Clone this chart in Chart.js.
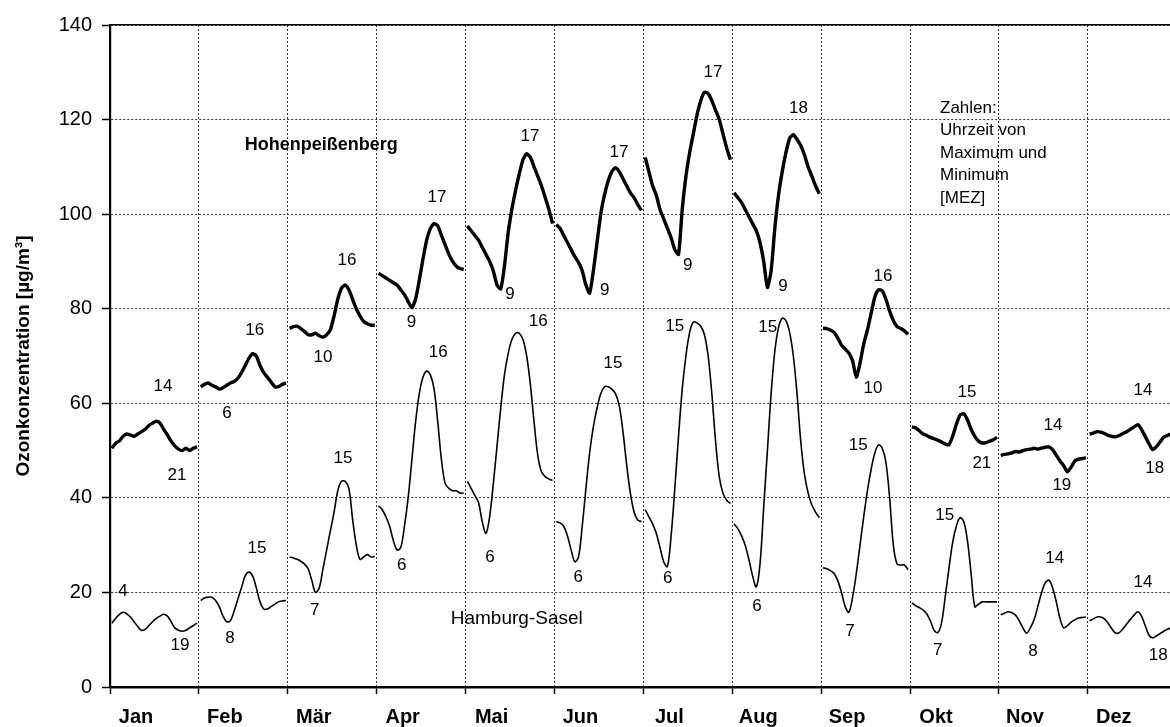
<!DOCTYPE html>
<html>
<head>
<meta charset="utf-8">
<script src="https://cdn.jsdelivr.net/npm/chart.js@4/dist/chart.umd.min.js"></script>
<style>
    html, body { margin: 0; padding: 0; background: #fff; overflow: hidden; }
</style>
</head>
<body>
<canvas id="ozon-chart" width="1170" height="727"></canvas>
<script>
const months = ["Jan", "Feb", "Mär", "Apr", "Mai", "Jun", "Jul", "Aug", "Sep", "Okt", "Nov", "Dez"];
const yTicks = [0, 20, 40, 60, 80, 100, 120, 140];

// mittlerer Tagesgang je Monat, Stunde 1..24 (µg/m³)
const hohenpeissenberg = [
    [50.5, 51.5, 52, 53, 53.5, 53.3, 53, 53.5, 54, 54.5, 55.3, 55.8, 56.2, 55.8, 54.5, 53.3, 52, 51, 50.3, 50, 50.5, 50, 50.5, 50.8],
    [63.5, 64, 64.3, 63.8, 63.5, 63, 63.3, 63.8, 64.3, 64.6, 65.3, 66.5, 68, 69.5, 70.5, 70, 68, 66.5, 65.5, 64.5, 63.5, 63.5, 64, 64.3],
    [75.8, 76.2, 76.3, 75.8, 75.2, 74.5, 74.5, 74.8, 74.3, 74, 74.5, 75.5, 78.5, 82, 84.3, 85, 84, 82, 80, 78.5, 77.3, 76.8, 76.5, 76.5],
    [87.5, 87, 86.5, 86, 85.5, 85, 84, 83, 81.5, 80.2, 82, 86, 90.5, 94.5, 97, 98, 97.5, 95.5, 93.5, 91.5, 90, 89, 88.5, 88.3],
    [97.5, 96.5, 95.5, 94.5, 93, 91.5, 90, 88, 85, 84.2, 89, 96, 101, 105, 108.5, 111.5, 112.8, 112, 110, 108, 106, 103.5, 101, 98],
    [97.8, 97, 95.5, 94, 92.5, 91, 89.8, 88, 85, 83.3, 88, 94, 100, 104, 107, 109, 109.8, 109, 107.5, 106, 104.5, 103.5, 102, 100.8],
    [112, 109, 106, 104, 101, 99, 97, 95, 92.5, 91.5, 101, 108, 113, 117, 121, 124, 125.8, 125.5, 124, 122, 120, 117, 114, 111.5],
    [104.5, 103.5, 102.5, 101, 99.5, 98, 96.5, 94, 90, 84.5, 88, 97, 104, 109, 113, 116, 116.8, 115.8, 114.5, 112.5, 110, 108, 106, 104.3],
    [75.9, 75.8, 75.5, 75, 73.8, 72.3, 71.5, 70.6, 69, 65.5, 68.5, 72.5, 75.5, 79, 82.5, 84, 83.8, 82, 79.5, 77.5, 76.2, 75.8, 75.3, 74.6],
    [55, 54.8, 54.2, 53.5, 53.2, 52.8, 52.5, 52.2, 51.8, 51.4, 51.2, 53, 55.5, 57.5, 57.8, 56.5, 54.5, 53, 52, 51.6, 51.7, 52, 52.3, 52.8],
    [49, 49.2, 49.3, 49.5, 49.8, 49.7, 50, 50.2, 50.3, 50.5, 50.3, 50.5, 50.7, 50.8, 50.2, 49, 47.8, 46.8, 45.5, 46.5, 47.8, 48.2, 48.3, 48.5],
    [53.5, 53.7, 54, 53.9, 53.6, 53.2, 53, 52.9, 53.2, 53.6, 54, 54.5, 55, 55.5, 54.5, 53, 51.5, 50.2, 50.8, 51.8, 52.8, 53.2, 53.5, 53.5]
];

const hamburgSasel = [
    [13.5, 14.5, 15.3, 15.8, 15.5, 14.8, 13.8, 12.8, 12, 12.2, 13, 13.8, 14.5, 15, 15.4, 15, 13.8, 12.5, 12, 11.8, 12, 12.5, 13, 13.5],
    [18.3, 18.8, 19, 19, 18.3, 17, 15, 13.8, 14, 16, 18.5, 21, 23.5, 24.3, 23.5, 21, 18, 16.5, 16.5, 17, 17.5, 18, 18.2, 18.3],
    [27.5, 27.3, 27, 26.6, 26, 25, 22.5, 20, 21, 25, 29, 33, 37, 41.5, 43.5, 43.5, 42, 35.5, 30, 27, 27.5, 28, 27.5, 27.6],
    [38.3, 37.5, 36, 34, 31, 29, 29.5, 34, 40, 48, 56, 62, 65.5, 66.8, 66, 63, 56, 48, 43, 42, 41.5, 41.5, 41, 41],
    [43.5, 42, 40.5, 39, 35, 32.5, 36, 43, 51, 59, 66, 70.5, 73.5, 74.8, 74.8, 73.5, 70, 64, 56, 49, 45.5, 44.5, 44, 43.7],
    [35, 34.7, 34, 32, 29, 26.5, 27.5, 34, 42, 49.5, 55, 59, 62, 63.5, 63.5, 63, 62, 59.5, 54, 47, 41, 37, 35.3, 35],
    [37.5, 36, 34.5, 32.5, 29.5, 26.5, 25.5, 32, 42, 53, 63, 70, 75, 77.2, 77, 76.3, 74.5, 70, 62, 52, 44.5, 41, 39.5, 38.8],
    [34.5, 33.5, 32, 30, 27, 23.5, 21.2, 26, 38, 50, 62, 71, 76, 78, 77.5, 75, 70, 62, 52, 45, 41, 38.5, 37, 35.8],
    [25.2, 25, 24.6, 24, 22.5, 20, 17, 15.8, 19, 24, 30, 36, 41.5, 46, 49.5, 51.2, 50.5, 47.5, 40, 30, 26, 25.8, 25.8, 24.8],
    [17.8, 17.2, 16.8, 16.3, 15.5, 14, 12, 11.5, 13.5, 19, 25, 30.5, 34, 35.8, 35, 31, 24, 17, 17.5, 18, 18, 18, 18, 18],
    [15.3, 15.6, 15.9, 15.7, 15.2, 14, 12.5, 11.4, 12.5, 14.2, 17, 19.9, 22, 22.6, 21, 18, 14.5, 12.5, 13, 13.7, 14.2, 14.6, 14.7, 14.8],
    [14, 14.4, 14.8, 14.8, 14.4, 13.5, 12.3, 11.4, 11.5, 12.3, 13.3, 14.3, 15.2, 15.9, 15, 13, 11, 10.4, 10.8, 11.3, 11.8, 12.2, 12.5, 12.8]
];

// Uhrzeit von Maximum / Minimum, dazu Ankerpunkt [Stunde im Jahr, Wert]
const hpbMaxHour = ["14", "16", "16", "17", "17", "17", "17", "18", "16", "15", "14", "14"];
const hpbMaxAt = [[14.3, 63.6], [39.1, 75.5], [64, 90.3], [88.3, 103.6], [113.4, 116.5], [137.4, 113.1], [162.8, 130], [185.9, 122.4], [208.7, 86.9], [231.4, 62.4], [254.6, 55.4], [278.9, 62.8]];
const hpbMinHour = ["21", "6", "10", "9", "9", "9", "9", "9", "10", "21", "19", "18"];
const hpbMinAt = [[18.1, 44.8], [31.6, 57.9], [57.5, 69.8], [81.4, 77.2], [108, 83.1], [133.6, 83.8], [156, 89.2], [181.7, 84.8], [206, 63.1], [235.4, 47.4], [257, 42.7], [282.1, 46.3]];
const hhsMaxHour = ["4", "15", "15", "16", "16", "15", "15", "15", "15", "15", "14", "14"];
const hhsMaxAt = [[3.5, 20.3], [39.7, 29.4], [62.9, 48.4], [88.6, 70.8], [115.6, 77.4], [135.8, 68.5], [152.5, 76.3], [177.6, 76.1], [202, 51.2], [225.4, 36.4], [255.1, 27.3], [278.9, 22.2]];
const hhsMinHour = ["19", "8", "7", "6", "6", "6", "6", "6", "7", "7", "8", "18"];
const hhsMinAt = [[18.9, 8.9], [32.4, 10.4], [55.3, 16.3], [78.8, 25.8], [102.6, 27.5], [126.4, 23.3], [150.6, 23], [174.7, 17], [199.8, 11.8], [223.5, 7.8], [249.2, 7.6], [283, 6.8]];

const noteLines = ["Zahlen:", "Uhrzeit von", "Maximum und", "Minimum", "[MEZ]"];

const FONT = "'Liberation Sans', Arial, Helvetica, sans-serif";

function buildSeries(rows) {
    const pts = [];
    rows.forEach(function (row, m) {
        row.forEach(function (v, h) {
            pts.push({ x: m * 24 + h + 0.5, y: v });
        });
        pts.push({ x: m * 24 + 24, y: null });
    });
    return pts;
}

const textPlugin = {
    id: "hourLabels",
    afterDatasetsDraw(chart) {
        const ctx = chart.ctx;
        const xs = chart.scales.x;
        const ys = chart.scales.y;
        const px = function (x) { return xs.getPixelForValue(x); };
        const py = function (y) { return ys.getPixelForValue(y); };
        ctx.save();
        ctx.fillStyle = "#000";
        ctx.textBaseline = "middle";
        ctx.textAlign = "center";
        ctx.font = "17px " + FONT;
        [[hpbMaxHour, hpbMaxAt], [hpbMinHour, hpbMinAt], [hhsMaxHour, hhsMaxAt], [hhsMinHour, hhsMinAt]].forEach(function (set) {
            set[0].forEach(function (t, i) {
                ctx.fillText(t, px(set[1][i][0]), py(set[1][i][1]));
            });
        });
        // Stationsnamen
        ctx.textAlign = "left";
        ctx.font = "bold 18px " + FONT;
        ctx.fillText("Hohenpeißenberg", px(36.4), py(114.6));
        ctx.font = "19px " + FONT;
        ctx.fillText("Hamburg-Sasel", px(92), py(14.4));
        // Hinweis
        ctx.font = "17px " + FONT;
        noteLines.forEach(function (t, i) {
            ctx.fillText(t, px(224.1), py(122.4 - i * 4.75));
        });
        ctx.restore();
    }
};

document.addEventListener("DOMContentLoaded", function () {
    const target = document.getElementById("ozon-chart");
    new Chart(target, {
        type: "line",
        data: {
            datasets: [
                {
                    label: "Hohenpeißenberg",
                    data: buildSeries(hohenpeissenberg),
                    borderColor: "#000",
                    borderWidth: 3.4,
                    pointRadius: 0,
                    tension: 0.2,
                    spanGaps: false
                },
                {
                    label: "Hamburg-Sasel",
                    data: buildSeries(hamburgSasel),
                    borderColor: "#000",
                    borderWidth: 1.6,
                    pointRadius: 0,
                    tension: 0.35,
                    spanGaps: false
                }
            ]
        },
        options: {
            responsive: false,
            animation: false,
            layout: { padding: { top: 25, left: 0, right: 0, bottom: 0 } },
            plugins: {
                legend: { display: false },
                tooltip: { enabled: false }
            },
            scales: {
                x: {
                    type: "linear",
                    position: "bottom",
                    min: 0,
                    max: 286.2,
                    afterBuildTicks: function (scale) {
                        scale.ticks = months.map(function (m, i) { return { value: i * 24 }; });
                    },
                    afterFit: function (scale) { scale.height = 40; },
                    ticks: {
                        autoSkip: false,
                        maxRotation: 0,
                        labelOffset: 26,
                        padding: 11,
                        color: "#000",
                        font: { family: FONT, size: 20, weight: "bold" },
                        callback: function (v, i) { return months[i]; }
                    },
                    grid: {
                        color: "#333",
                        lineWidth: 1,
                        tickLength: 7,
                        tickColor: "#000",
                        tickWidth: 1.5,
                        tickBorderDash: []
                    },
                    border: { display: true, color: "#000", width: 2.5, dash: [2, 2] }
                },
                xTop: {
                    type: "linear",
                    position: "top",
                    min: 0,
                    max: 286.2,
                    afterFit: function (scale) { scale.height = 0; },
                    ticks: { display: false },
                    grid: { display: false, drawTicks: false },
                    border: { display: true, color: "#000", width: 1.5 }
                },
                y: {
                    min: 0,
                    max: 140,
                    afterBuildTicks: function (scale) {
                        scale.ticks = yTicks.map(function (v) { return { value: v }; });
                    },
                    afterFit: function (scale) { scale.width = 110; },
                    ticks: {
                        padding: 10,
                        color: "#000",
                        font: { family: FONT, size: 20 }
                    },
                    grid: {
                        color: "#333",
                        lineWidth: 1,
                        tickLength: 8,
                        tickColor: "#000",
                        tickWidth: 1.5,
                        tickBorderDash: []
                    },
                    border: { display: true, color: "#000", width: 2.2, dash: [2, 2] },
                    title: {
                        display: true,
                        text: "Ozonkonzentration [µg/m³]",
                        color: "#000",
                        padding: { top: 12, bottom: 0 },
                        font: { family: FONT, size: 19, weight: "bold" }
                    }
                }
            }
        },
        plugins: [textPlugin]
    });
});
</script>
</body>
</html>
